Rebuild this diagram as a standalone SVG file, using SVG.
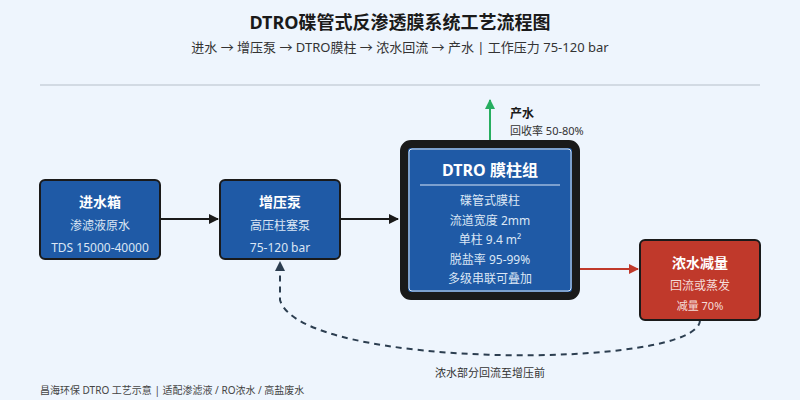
<svg xmlns="http://www.w3.org/2000/svg" width="800" height="400" viewBox="0 0 800 400">
<defs>
<style>
text{font-family:"Noto Sans","Noto Sans CJK SC",sans-serif;text-anchor:middle}
.t{font-size:14px;font-weight:bold;fill:#fff}
.s{font-size:12px;fill:#dbe6f5}
.box{fill:#1f5aa6;stroke:#1a1a1a;stroke-width:2}
</style>
<marker id="ak" markerWidth="10" markerHeight="10" refX="9" refY="5" orient="auto" markerUnits="userSpaceOnUse"><path d="M0,0L10,5L0,10z" fill="#1a1a1a"/></marker>
<marker id="ag" markerWidth="10" markerHeight="10" refX="9" refY="5" orient="auto" markerUnits="userSpaceOnUse"><path d="M0,0L10,5L0,10z" fill="#27ae60"/></marker>
<marker id="ar" markerWidth="10" markerHeight="10" refX="9" refY="5" orient="auto" markerUnits="userSpaceOnUse"><path d="M0,0L10,5L0,10z" fill="#c0392b"/></marker>
<marker id="ad" markerWidth="10" markerHeight="10" refX="9" refY="5" orient="auto" markerUnits="userSpaceOnUse"><path d="M0,0L10,5L0,10z" fill="#2c3e50"/></marker>
</defs>
<rect width="800" height="400" fill="#eef5fd"/>
<text x="400" y="29" style="font-size:18px;font-weight:bold;fill:#1a1a1a">DTRO碟管式反渗透膜系统工艺流程图</text>
<text x="400" y="52" style="font-size:13px;fill:#333">进水 → 增压泵 → DTRO膜柱 → 浓水回流 → 产水 | 工作压力 75-120 bar</text>
<line x1="40" y1="85" x2="760" y2="85" stroke="#c8d0da" stroke-width="1.5"/>
<g id="connectors" fill="none" stroke-width="2">
<line x1="160" y1="219" x2="218" y2="219" stroke="#1a1a1a" marker-end="url(#ak)"/>
<line x1="340" y1="219" x2="398" y2="219" stroke="#1a1a1a" marker-end="url(#ak)"/>
<line x1="490" y1="140" x2="490" y2="100" stroke="#27ae60" marker-end="url(#ag)"/>
<line x1="580" y1="269" x2="638" y2="269" stroke="#c0392b" marker-end="url(#ar)"/>
<path d="M700,320 C700,370 300,370 280,300 L280,262" stroke="#2c3e50" stroke-dasharray="6,5" marker-end="url(#ad)"/>
</g>
<g id="feed"><rect class="box" x="40" y="180" width="120" height="79" rx="5"/>
<text class="t" x="100" y="207">进水箱</text><text class="s" x="100" y="230">渗滤液原水</text><text class="s" x="100" y="252">TDS 15000-40000</text></g>
<g id="pump"><rect class="box" x="220" y="180" width="120" height="79" rx="5"/>
<text class="t" x="280" y="207">增压泵</text><text class="s" x="280" y="230">高压柱塞泵</text><text class="s" x="280" y="252">75-120 bar</text></g>
<g id="dtro"><rect x="404" y="144" width="172" height="152" rx="7" fill="#1f5aa6" stroke="#1a1a1a" stroke-width="8"/>
<rect x="409" y="149" width="162" height="142" rx="3" fill="none" stroke="#dbe6f5" stroke-width="1"/>
<text x="490" y="176" style="font-size:16px;font-weight:bold;fill:#fff">DTRO 膜柱组</text>
<line x1="420" y1="185" x2="560" y2="185" stroke="#9db8dc" stroke-width="1.5"/>
<text class="s" x="490" y="205">碟管式膜柱</text><text class="s" x="490" y="225">流道宽度 2mm</text>
<text class="s" x="490" y="244">单柱 9.4 m²</text><text class="s" x="490" y="264">脱盐率 95-99%</text><text class="s" x="490" y="283">多级串联可叠加</text></g>
<g id="conc"><rect x="640" y="240" width="120" height="80" rx="5" fill="#c0392b" stroke="#1a1a1a" stroke-width="2"/>
<text class="t" x="700" y="268">浓水减量</text><text x="700" y="290" style="font-size:12px;fill:#f5dcd9">回流或蒸发</text><text x="700" y="310" style="font-size:11px;fill:#f5dcd9">减量 70%</text></g>
<g id="product"><text x="510" y="118" style="font-size:12px;font-weight:bold;fill:#1a1a1a;text-anchor:start">产水</text>
<text x="510" y="135" style="font-size:11px;fill:#333;text-anchor:start">回收率 50-80%</text></g>
<text x="490" y="377" style="font-size:11px;fill:#333">浓水部分回流至增压前</text>
<text x="40" y="394" style="font-size:10px;fill:#444;text-anchor:start">昌海环保 DTRO 工艺示意 | 适配渗滤液 / RO浓水 / 高盐废水</text>
</svg>
